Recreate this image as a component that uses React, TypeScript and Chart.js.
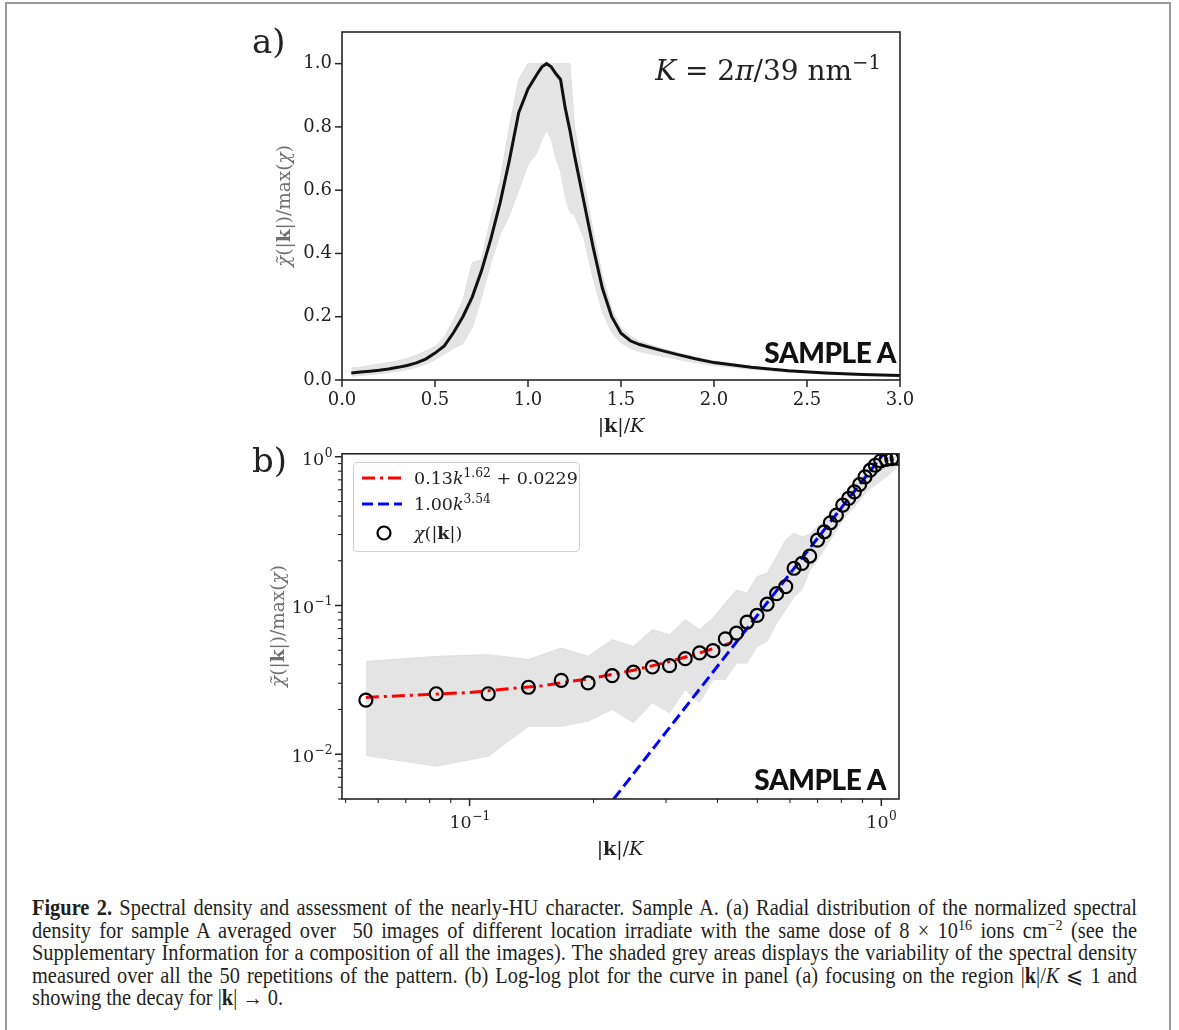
import React, { useEffect, useRef } from 'react';
import { Chart, registerables } from 'chart.js';

Chart.register(...registerables);

// ---------- Panel (a): linear plot ----------
const kA = [0.05, 0.1, 0.15, 0.2, 0.25, 0.3, 0.35, 0.4, 0.45, 0.5, 0.55, 0.6, 0.65, 0.7, 0.75, 0.8, 0.85, 0.9, 0.95, 1.0,
  1.05, 1.075, 1.1, 1.125, 1.15, 1.175, 1.2, 1.225, 1.25, 1.3, 1.35, 1.4, 1.45, 1.5, 1.55, 1.6, 1.7, 1.8, 1.9, 2.0,
  2.2, 2.4, 2.6, 2.8, 3.0];
const meanA = [0.022, 0.025, 0.028, 0.031, 0.035, 0.04, 0.046, 0.054, 0.066, 0.085, 0.108, 0.15, 0.2, 0.262, 0.345, 0.445, 0.56, 0.695, 0.845, 0.92,
  0.968, 0.99, 1.0, 0.99, 0.968, 0.95, 0.86, 0.79, 0.71, 0.565, 0.42, 0.29, 0.2, 0.148, 0.124, 0.112, 0.096, 0.081, 0.067, 0.055,
  0.04, 0.029, 0.022, 0.017, 0.014];
const upperA = [0.038, 0.04, 0.046, 0.05, 0.055, 0.06, 0.068, 0.078, 0.092, 0.105, 0.135, 0.19, 0.25, 0.37, 0.38, 0.51, 0.63, 0.8, 0.95, 1.0,
  1.0, 1.0, 1.0, 1.0, 1.0, 1.0, 1.0, 1.0, 0.8, 0.63, 0.47, 0.33, 0.225, 0.165, 0.138, 0.122, 0.103, 0.087, 0.072, 0.06,
  0.043, 0.031, 0.023, 0.018, 0.015];
const lowerA = [0.012, 0.014, 0.017, 0.02, 0.024, 0.028, 0.033, 0.04, 0.05, 0.064, 0.082, 0.1, 0.115, 0.165, 0.26, 0.37, 0.46, 0.52, 0.6, 0.68,
  0.72, 0.76, 0.79, 0.76, 0.7, 0.66, 0.58, 0.53, 0.52, 0.45, 0.32, 0.215, 0.15, 0.118, 0.1, 0.09, 0.078, 0.066, 0.055, 0.046,
  0.034, 0.025, 0.019, 0.015, 0.012];
const xTicksA = [0, 0.5, 1.0, 1.5, 2.0, 2.5, 3.0];
const yTicksA = [0, 0.2, 0.4, 0.6, 0.8, 1.0];

// ---------- Panel (b): log-log plot ----------
const kB = [0.056, 0.083, 0.111, 0.139, 0.167, 0.194, 0.222, 0.25, 0.278, 0.306, 0.334, 0.362, 0.39, 0.418, 0.445, 0.472,
  0.499, 0.528, 0.557, 0.586, 0.614, 0.642, 0.67, 0.7, 0.727, 0.752, 0.778, 0.806, 0.833, 0.86, 0.886, 0.913, 0.94, 0.967,
  0.997, 1.028, 1.06, 1.092];
const chiB = [0.0231, 0.0255, 0.0255, 0.0282, 0.0314, 0.0302, 0.0338, 0.0356, 0.0386, 0.0394, 0.0439, 0.048, 0.0497, 0.0596,
  0.0653, 0.0774, 0.0857, 0.102, 0.12, 0.134, 0.178, 0.192, 0.215, 0.275, 0.313, 0.36, 0.405, 0.473, 0.525, 0.581, 0.651,
  0.733, 0.812, 0.877, 0.938, 0.96, 0.97, 0.98];
const upperB = [0.042, 0.0455, 0.0467, 0.0433, 0.0518, 0.0455, 0.0589, 0.053, 0.0687, 0.0636, 0.0802, 0.0687, 0.0823, 0.104,
  0.127, 0.121, 0.156, 0.165, 0.213, 0.276, 0.305, 0.29, 0.3, 0.34, 0.37, 0.41, 0.46, 0.53, 0.59, 0.65, 0.72, 0.8, 0.88,
  0.95, 1.0, 1.0, 1.0, 1.0];
const lowerB = [0.0098, 0.0083, 0.0097, 0.0154, 0.0154, 0.0167, 0.02, 0.0163, 0.0222, 0.019, 0.0272, 0.0222, 0.0318, 0.0318,
  0.041, 0.041, 0.053, 0.0574, 0.0762, 0.0936, 0.115, 0.128, 0.173, 0.202, 0.24, 0.276, 0.32, 0.376, 0.42, 0.46, 0.51,
  0.566, 0.61, 0.643, 0.69, 0.73, 0.79, 0.85];
const fitRedK = [0.056, 0.1, 0.15, 0.2, 0.25, 0.3, 0.35, 0.4, 0.432];
const fitRedV = [0.0241, 0.026, 0.0289, 0.0325, 0.0367, 0.0414, 0.0466, 0.0524, 0.0563];
const fitBlueK = [0.2239, 1.05];
const fitBlueV = [0.005, 1.1885];
const xMajorB = [0.1, 1];
const xMajorExpB = ['−1', '0'];
const xMinorB = [0.05, 0.06, 0.07, 0.08, 0.09, 0.2, 0.3, 0.4, 0.5, 0.6, 0.7, 0.8, 0.9];
const yMajorB = [0.01, 0.1, 1];
const yMajorExpB = ['−2', '−1', '0'];
const yMinorB = [0.005, 0.006, 0.007, 0.008, 0.009, 0.02, 0.03, 0.04, 0.05, 0.06, 0.07, 0.08, 0.09,
  0.2, 0.3, 0.4, 0.5, 0.6, 0.7, 0.8, 0.9];

const SERIF = "'DejaVu Serif', serif";
const CAPTION_FONT = "'Liberation Serif', 'Times New Roman', serif";
const BAND = '#e4e4e4';
const BAND_EDGE = '#dddddd';
const TICK_FONT = { family: SERIF, size: 18 };

const pts = (xs: number[], ys: number[]) => xs.map((x, i) => ({ x, y: ys[i] }));

const frameTicks = {
  id: 'frameTicks',
  afterDraw(chart: any, _args: any, opts: any) {
    const { ctx, chartArea: a } = chart;
    const sx = chart.scales.x;
    const sy = chart.scales.y;
    ctx.save();
    ctx.strokeStyle = '#262626';
    const tick = (vals: number[], len: number, horizontal: boolean) => {
      for (const v of vals) {
        if (horizontal) {
          const p = sx.getPixelForValue(v);
          if (p < a.left - 0.5 || p > a.right + 0.5) continue;
          ctx.beginPath();
          ctx.moveTo(p, a.bottom);
          ctx.lineTo(p, a.bottom + len);
          ctx.stroke();
        } else {
          const p = sy.getPixelForValue(v);
          if (p < a.top - 0.5 || p > a.bottom + 0.5) continue;
          ctx.beginPath();
          ctx.moveTo(a.left, p);
          ctx.lineTo(a.left - len, p);
          ctx.stroke();
        }
      }
    };
    ctx.lineWidth = 1.5;
    tick(opts.xMajor || [], 7, true);
    tick(opts.yMajor || [], 7, false);
    ctx.lineWidth = 1.1;
    tick(opts.xMinor || [], 4, true);
    tick(opts.yMinor || [], 4, false);
    ctx.lineWidth = 1.6;
    ctx.strokeRect(a.left, a.top, a.right - a.left, a.bottom - a.top);

    // power-of-ten labels (10 with a raised exponent) for log axes
    if (opts.powerLabels) {
      ctx.fillStyle = '#222';
      ctx.textBaseline = 'alphabetic';
      ctx.textAlign = 'left';
      const big = `17.5px ${SERIF}`;
      const small = `12.2px ${SERIF}`;
      const measure = (e: string) => {
        ctx.font = big;
        const w1 = ctx.measureText('10').width;
        ctx.font = small;
        const w2 = ctx.measureText(e).width;
        return [w1, w2];
      };
      const draw = (x: number, base: number, e: string) => {
        const [w1] = measure(e);
        ctx.font = big;
        ctx.fillText('10', x, base);
        ctx.font = small;
        ctx.fillText(e, x + w1 + 0.5, base - 8);
      };
      (opts.xMajor || []).forEach((v: number, i: number) => {
        const p = sx.getPixelForValue(v);
        const e = opts.xExp[i];
        const [w1, w2] = measure(e);
        draw(p - (w1 + w2) / 2, a.bottom + 29, e);
      });
      (opts.yMajor || []).forEach((v: number, i: number) => {
        const p = sy.getPixelForValue(v);
        const e = opts.yExp[i];
        const [w1, w2] = measure(e);
        draw(a.left - 10 - (w1 + w2), p + 8, e);
      });
    }
    ctx.restore();
  },
};

function axisBase() {
  return {
    grid: { display: false, drawTicks: true, tickLength: 7 },
    border: { display: false },
  };
}

function makeChartA(canvas: HTMLCanvasElement) {
  return new Chart(canvas, {
    type: 'line',
    data: {
      datasets: [
        { data: pts(kA, upperA), fill: '+1', backgroundColor: BAND, borderColor: BAND_EDGE, borderWidth: 1, pointRadius: 0, order: 3 },
        { data: pts(kA, lowerA), fill: false, borderColor: BAND_EDGE, borderWidth: 1, pointRadius: 0, order: 3 },
        { data: pts(kA, meanA), fill: false, borderColor: '#111111', borderWidth: 3, pointRadius: 0, order: 1 },
      ],
    } as any,
    options: {
      responsive: false,
      animation: false,
      events: [],
      layout: { padding: { left: 0, top: 32, right: 279, bottom: 10 } },
      plugins: {
        legend: { display: false },
        tooltip: { enabled: false },
        frameTicks: { xMajor: xTicksA, yMajor: yTicksA },
      } as any,
      scales: {
        x: {
          type: 'linear', min: 0, max: 3,
          ...axisBase(),
          afterBuildTicks: (s: any) => { s.ticks = xTicksA.map((v) => ({ value: v })); },
          afterFit: (s: any) => { s.height = 50; },
          ticks: { font: TICK_FONT, color: '#222', padding: 3, maxRotation: 0, autoSkip: false,
            callback: (v: any) => Number(v).toFixed(1) },
        },
        y: {
          type: 'linear', min: 0, max: 1.1,
          ...axisBase(),
          afterBuildTicks: (s: any) => { s.ticks = yTicksA.map((v) => ({ value: v })); },
          afterFit: (s: any) => { s.width = 342; },
          ticks: { font: TICK_FONT, color: '#222', padding: 3, autoSkip: false,
            callback: (v: any) => Number(v).toFixed(1) },
        },
      } as any,
    },
    plugins: [frameTicks as any],
  });
}

function makeChartB(canvas: HTMLCanvasElement) {
  return new Chart(canvas, {
    type: 'line',
    data: {
      datasets: [
        { data: pts(kB, upperB), fill: '+1', backgroundColor: BAND, borderColor: BAND_EDGE, borderWidth: 1, pointRadius: 0, order: 4 },
        { data: pts(kB, lowerB), fill: false, borderColor: BAND_EDGE, borderWidth: 1, pointRadius: 0, order: 4 },
        { data: pts(fitRedK, fitRedV), fill: false, borderColor: '#ff0000', borderWidth: 3, borderDash: [13, 5, 3, 5], pointRadius: 0, order: 2 },
        { data: pts(fitBlueK, fitBlueV), fill: false, borderColor: '#0000ff', borderWidth: 3, borderDash: [11, 5], pointRadius: 0, order: 2 },
        { data: pts(kB, chiB), showLine: false, fill: false, pointRadius: 6.5, pointBorderWidth: 2.2, pointBorderColor: '#000000',
          pointBackgroundColor: 'rgba(0,0,0,0)', borderColor: '#000000', order: 1 },
      ],
    } as any,
    options: {
      responsive: false,
      animation: false,
      events: [],
      layout: { padding: { left: 0, top: 13, right: 280, bottom: 21 } },
      plugins: {
        legend: { display: false },
        tooltip: { enabled: false },
        frameTicks: { xMajor: xMajorB, xMinor: xMinorB, yMajor: yMajorB, yMinor: yMinorB,
          powerLabels: true, xExp: xMajorExpB, yExp: yMajorExpB },
      } as any,
      scales: {
        x: {
          type: 'logarithmic', min: 0.049, max: 1.104,
          ...axisBase(),
          afterBuildTicks: (s: any) => { s.ticks = [...xMajorB, ...xMinorB].map((v) => ({ value: v })); },
          afterFit: (s: any) => { s.height = 50; },
          ticks: { font: TICK_FONT, color: '#222', padding: 4, maxRotation: 0, autoSkip: false, callback: () => '' },
        },
        y: {
          type: 'logarithmic', min: 0.005, max: 1.047,
          ...axisBase(),
          afterBuildTicks: (s: any) => { s.ticks = [...yMajorB, ...yMinorB].map((v) => ({ value: v })); },
          afterFit: (s: any) => { s.width = 342; },
          ticks: { font: TICK_FONT, color: '#222', padding: 3, autoSkip: false, callback: () => '' },
        },
      } as any,
    },
    plugins: [frameTicks as any],
  });
}

const abs = (s: React.CSSProperties): React.CSSProperties => ({ position: 'absolute', whiteSpace: 'nowrap', ...s });
const sup: React.CSSProperties = { fontSize: '0.7em', position: 'relative', top: '-0.55em', lineHeight: 0 };
const bold: React.CSSProperties = { fontWeight: 'bold', fontStyle: 'normal' };

function YTitle({ cx, cy }: { cx: number; cy: number }) {
  return (
    <div style={abs({ left: cx, top: cy, transform: 'translate(-50%,-50%) rotate(-90deg)', fontFamily: SERIF, fontSize: 18.5, color: '#707070', lineHeight: '22px' })}>
      <i>χ̃</i>(|<span style={bold}>k</span>|)/max(<i>χ</i>)
    </div>
  );
}

function XTitle({ cx, cy }: { cx: number; cy: number }) {
  return (
    <div style={abs({ left: cx, top: cy, transform: 'translate(-50%,-50%)', fontFamily: SERIF, fontSize: 19, color: '#222', lineHeight: '22px' })}>
      |<span style={bold}>k</span>|/<i>K</i>
    </div>
  );
}

function Sample({ right, cy }: { right: number; cy: number }) {
  return (
    <div style={abs({ left: right, top: cy, transform: 'translate(-100%,-50%)', fontFamily: 'Lato, sans-serif', fontWeight: 900, fontSize: 28, color: '#111', lineHeight: '30px', letterSpacing: '-0.4px' })}>
      SAMPLE A
    </div>
  );
}

function Legend() {
  const row = (top: number): React.CSSProperties => ({ position: 'absolute', left: 0, top, height: 26, width: 226, display: 'flex', alignItems: 'center' });
  return (
    <div style={abs({ left: 353, top: 462, width: 227, height: 90, border: '1px solid #d0d0d0', borderRadius: 4, background: 'rgba(255,255,255,0.85)', boxSizing: 'border-box', fontFamily: SERIF, fontSize: 17.5, color: '#222' })}>
      <div style={row(2)}>
        <svg width={40} height={10} style={{ marginLeft: 8 }}>
          <line x1={0} y1={5} x2={40} y2={5} stroke="#ff0000" strokeWidth={3} strokeDasharray="13 5 3 5" />
        </svg>
        <span style={{ marginLeft: 12 }}>0.13<i>k</i><span style={sup}>1.62</span> + 0.0229</span>
      </div>
      <div style={row(28)}>
        <svg width={40} height={10} style={{ marginLeft: 8 }}>
          <line x1={0} y1={5} x2={40} y2={5} stroke="#0000ff" strokeWidth={3} strokeDasharray="11 5" />
        </svg>
        <span style={{ marginLeft: 12 }}>1.00<i>k</i><span style={sup}>3.54</span></span>
      </div>
      <div style={row(57)}>
        <svg width={40} height={16} style={{ marginLeft: 8 }}>
          <circle cx={22} cy={8} r={6.5} fill="none" stroke="#000" strokeWidth={2.2} />
        </svg>
        <span style={{ marginLeft: 12 }}><i>χ</i>(|<span style={bold}>k</span>|)</span>
      </div>
    </div>
  );
}

function Caption() {
  const k = <span style={{ fontWeight: 'bold' }}>k</span>;
  const line = (justify: boolean): React.CSSProperties => ({
    whiteSpace: 'nowrap', height: 22.5, width: 1105,
    textAlign: justify ? 'justify' : 'left', textAlignLast: justify ? 'justify' : 'left',
    transform: 'scaleY(1.08)', transformOrigin: '50% 60%',
  });
  return (
    <div style={abs({ left: 32, top: 897, fontFamily: CAPTION_FONT, fontSize: 20.4, lineHeight: '22.5px', color: '#231f20' })}>
      <div style={line(true)}><b>Figure 2.</b> Spectral density and assessment of the nearly-HU character. Sample A. (a) Radial distribution of the normalized spectral</div>
      <div style={line(true)}>density for sample A averaged over &nbsp;50 images of different location irradiate with the same dose of 8 × 10<span style={sup}>16</span> ions cm<span style={sup}>−2</span> (see the</div>
      <div style={line(true)}>Supplementary Information for a composition of all the images). The shaded grey areas displays the variability of the spectral density</div>
      <div style={line(true)}>measured over all the 50 repetitions of the pattern. (b) Log-log plot for the curve in panel (a) focusing on the region |{k}|/<i>K</i> ⩽ 1 and</div>
      <div style={line(false)}>showing the decay for |{k}| → 0.</div>
    </div>
  );
}

export default function App() {
  const refA = useRef<HTMLCanvasElement>(null);
  const refB = useRef<HTMLCanvasElement>(null);

  useEffect(() => {
    Chart.defaults.font.family = SERIF;
    const a = refA.current ? makeChartA(refA.current) : null;
    const b = refB.current ? makeChartB(refB.current) : null;
    return () => {
      a?.destroy();
      b?.destroy();
    };
  }, []);

  return (
    <div style={{ position: 'absolute', left: 0, top: 0, width: 1179, height: 1030, overflow: 'hidden', background: '#fff' }}>
      <div style={{ position: 'absolute', left: 5, top: 2, width: 1166, height: 1200, border: '2px solid #9a9a9a', boxSizing: 'border-box' }} />
      <canvas ref={refA} width={1179} height={440} style={{ position: 'absolute', left: 0, top: 0, width: 1179, height: 440 }} />
      <canvas ref={refB} width={1179} height={430} style={{ position: 'absolute', left: 0, top: 440, width: 1179, height: 430 }} />

      <div style={abs({ left: 252, top: 21, fontFamily: SERIF, fontSize: 34, lineHeight: '40px', color: '#222' })}>a)</div>
      <div style={abs({ left: 252, top: 440, fontFamily: SERIF, fontSize: 34, lineHeight: '40px', color: '#222' })}>b)</div>

      <YTitle cx={284} cy={206} />
      <YTitle cx={278} cy={626} />
      <XTitle cx={621} cy={425} />
      <XTitle cx={620} cy={848} />

      <div style={abs({ left: 881, top: 71, transform: 'translate(-100%,-50%)', fontFamily: SERIF, fontSize: 28, lineHeight: '36px', color: '#222' })}>
        <i>K</i> = 2<i>π</i>/39 nm<span style={sup}>−1</span>
      </div>

      <Sample right={896} cy={352} />
      <Sample right={886} cy={779} />
      <Legend />
      <Caption />
    </div>
  );
}
